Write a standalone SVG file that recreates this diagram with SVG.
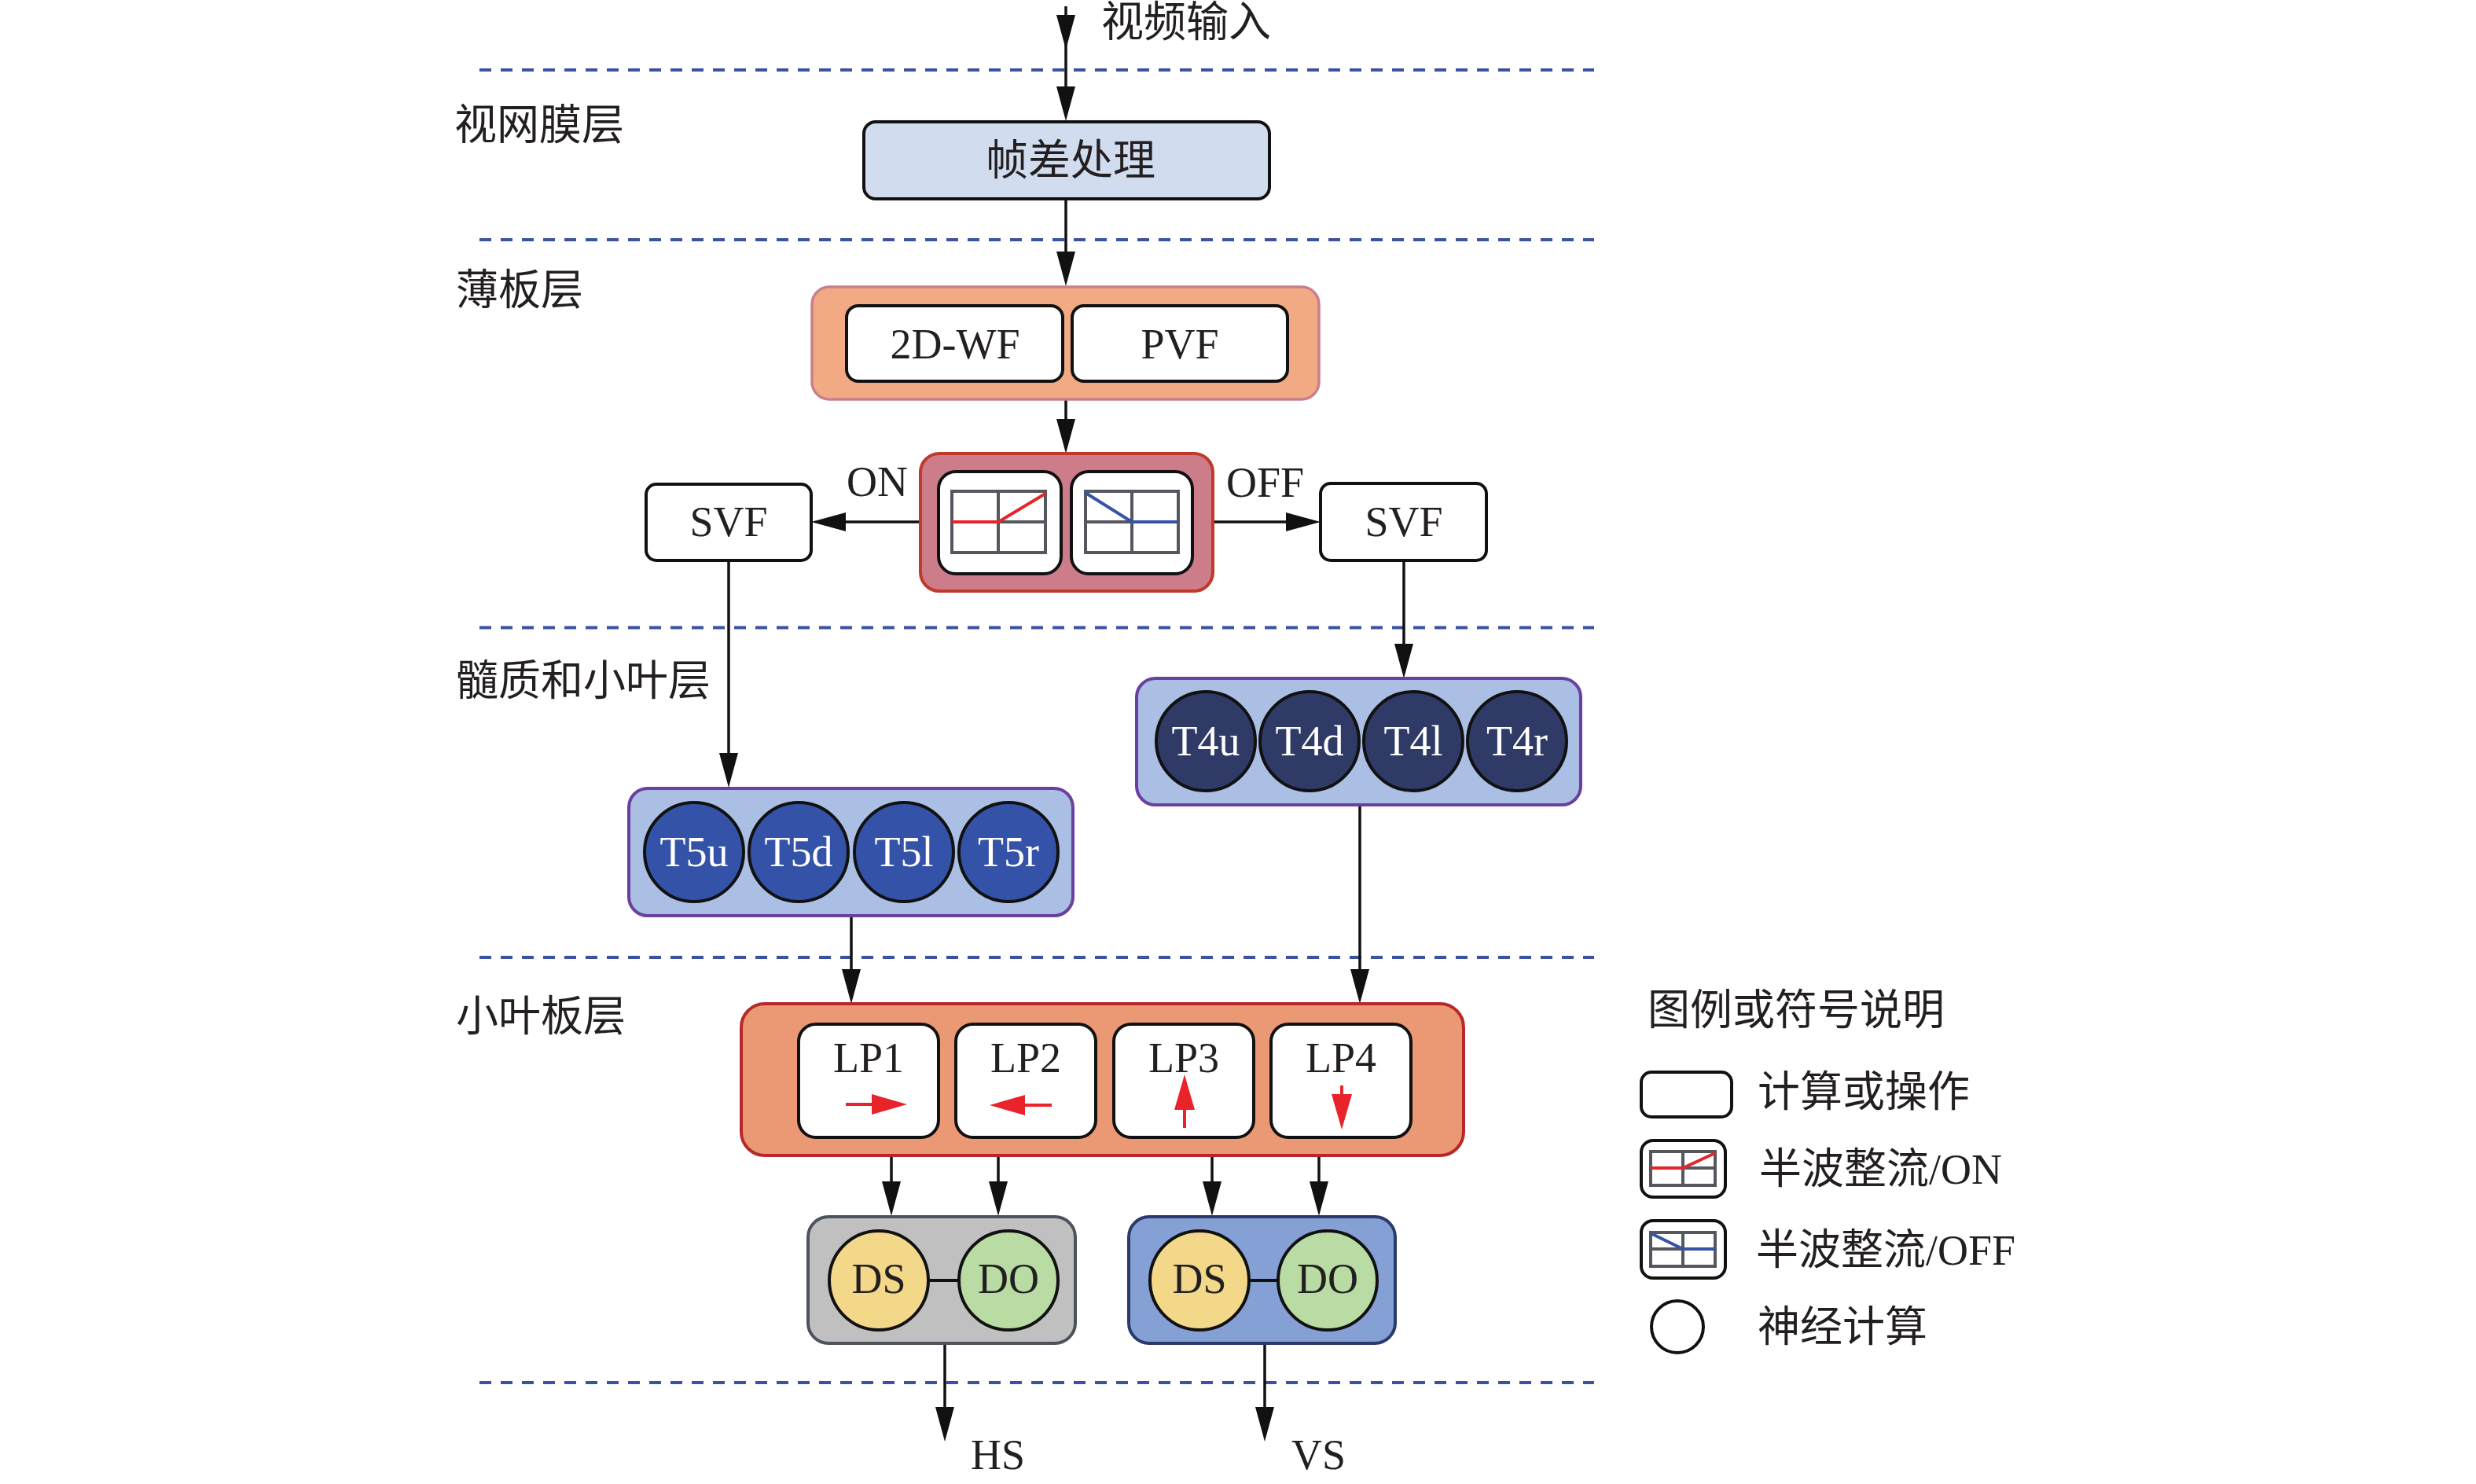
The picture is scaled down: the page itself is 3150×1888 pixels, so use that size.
<svg xmlns="http://www.w3.org/2000/svg" width="3150" height="1888" viewBox="0 0 3150 1888">
<defs>
<style>
.dash{stroke:#3a52a0;stroke-width:4;stroke-dasharray:15 12;fill:none}
.conn{stroke:#111;stroke-width:3.5;fill:none;marker-end:url(#ah)}
.red{stroke:#e8232a;stroke-width:4;fill:none;marker-end:url(#rah)}
.wbox{fill:#fff;stroke:#111;stroke-width:4}
.lat{font-family:"Liberation Serif","Times New Roman",serif;font-size:54px;fill:#231f20}
.wt{font-family:"Liberation Serif","Times New Roman",serif;font-size:54px;fill:#fff}
.cjk{font-family:"Liberation Serif","Noto Sans CJK SC",serif;font-size:54px;fill:#231f20}
.grid{fill:none;stroke:#55575f;stroke-width:4}
.ring{stroke:#111;stroke-width:4}
.mid{text-anchor:middle}
</style>
<marker id="ah" markerUnits="userSpaceOnUse" markerWidth="44" markerHeight="24" refX="36" refY="12" orient="auto">
<path d="M0,0 L44,12 L0,24 Z" fill="#111"/>
</marker>
<marker id="rah" markerUnits="userSpaceOnUse" markerWidth="45" markerHeight="26" refX="37" refY="13" orient="auto">
<path d="M0,0 L45,13 L0,26 Z" fill="#e8232a"/>
</marker>
</defs>
<rect width="3150" height="1888" fill="#fff"/>

<g id="layers">
<line class="dash" x1="610" y1="89" x2="2028" y2="89"/>
<line class="dash" x1="610" y1="305" x2="2028" y2="305"/>
<line class="dash" x1="610" y1="798.5" x2="2028" y2="798.5"/>
<line class="dash" x1="610" y1="1218" x2="2028" y2="1218"/>
<line class="dash" x1="610" y1="1759" x2="2028" y2="1759"/>
<text class="cjk" x="578" y="178">视网膜层</text>
<text class="cjk" x="580" y="388">薄板层</text>
<text class="cjk" x="580" y="885">髓质和小叶层</text>
<text class="cjk" x="580" y="1312">小叶板层</text>
</g>

<g id="connectors">
<path class="conn" d="M1356,8 V55 V146" marker-mid="url(#ah)"/>
<path class="conn" d="M1356,253 V356"/>
<path class="conn" d="M1356,508 V569"/>
<path class="conn" d="M1171,664 H1040"/>
<path class="conn" d="M1543,664 H1672"/>
<path class="conn" d="M927,713 V994"/>
<path class="conn" d="M1786,713 V855"/>
<path class="conn" d="M1083,1165 V1269"/>
<path class="conn" d="M1730,1024 V1269"/>
<path class="conn" d="M1134,1470 V1539"/>
<path class="conn" d="M1270,1470 V1539"/>
<path class="conn" d="M1542,1470 V1539"/>
<path class="conn" d="M1678,1470 V1539"/>
<path class="conn" d="M1202,1709 V1826"/>
<path class="conn" d="M1609,1709 V1826"/>
<text class="cjk" x="1401" y="47">视频输入</text>
<text class="lat" x="1077" y="631">ON</text>
<text class="lat" x="1560" y="632">OFF</text>
<text class="lat" x="1235" y="1869">HS</text>
<text class="lat" x="1643" y="1869">VS</text>
</g>

<g id="frame-diff">
<rect x="1099" y="155" width="516" height="98" rx="15" fill="#d1ddef" stroke="#111" stroke-width="4"/>
<text class="cjk mid" x="1362" y="223">帧差处理</text>
</g>

<g id="lamina">
<rect x="1033" y="365" width="645" height="143" rx="22" fill="#f2aa84" stroke="#c9808a" stroke-width="3.5"/>
<g id="wf2d">
<rect class="wbox" x="1077" y="389" width="275" height="96" rx="15"/>
<text class="lat mid" x="1215" y="456">2D-WF</text>
</g>
<g id="pvf">
<rect class="wbox" x="1364" y="389" width="274" height="96" rx="15"/>
<text class="lat mid" x="1501" y="456">PVF</text>
</g>
</g>

<g id="rectifier">
<rect x="1171" y="577" width="372" height="175" rx="24" fill="#cd7d8a" stroke="#c0392b" stroke-width="4"/>
<g id="hwr-on">
<rect class="wbox" x="1194" y="600" width="156" height="130" rx="22"/>
<rect class="grid" x="1211" y="625" width="119" height="78"/>
<line class="grid" x1="1270" y1="625" x2="1270" y2="703"/>
<line class="grid" x1="1211" y1="664" x2="1330" y2="664"/>
<polyline points="1211,664 1270,664 1330,628" fill="none" stroke="#e3262c" stroke-width="4"/>
</g>
<g id="hwr-off">
<rect class="wbox" x="1363" y="600" width="154" height="130" rx="22"/>
<rect class="grid" x="1381" y="625" width="118" height="78"/>
<line class="grid" x1="1440" y1="625" x2="1440" y2="703"/>
<line class="grid" x1="1381" y1="664" x2="1499" y2="664"/>
<polyline points="1381,627 1440,664 1499,664" fill="none" stroke="#3653a5" stroke-width="4"/>
</g>
</g>

<g id="svf-on">
<rect class="wbox" x="822" y="616" width="210" height="97" rx="13"/>
<text class="lat mid" x="927" y="682">SVF</text>
</g>
<g id="svf-off">
<rect class="wbox" x="1680" y="615" width="211" height="98" rx="13"/>
<text class="lat mid" x="1786" y="682">SVF</text>
</g>

<g id="t5">
<rect x="800" y="1003" width="565" height="162" rx="24" fill="#aabfe3" stroke="#6b3fa0" stroke-width="4"/>
<circle class="ring" cx="883" cy="1084" r="63" fill="#3452a8"/>
<circle class="ring" cx="1016" cy="1084" r="63" fill="#3452a8"/>
<circle class="ring" cx="1150" cy="1084" r="63" fill="#3452a8"/>
<circle class="ring" cx="1283" cy="1084" r="63" fill="#3452a8"/>
<text class="wt mid" x="883" y="1102">T5u</text>
<text class="wt mid" x="1016" y="1102">T5d</text>
<text class="wt mid" x="1150" y="1102">T5l</text>
<text class="wt mid" x="1283" y="1102">T5r</text>
</g>

<g id="t4">
<rect x="1446" y="863" width="565" height="161" rx="24" fill="#aabfe3" stroke="#6b3fa0" stroke-width="4"/>
<circle class="ring" cx="1534" cy="943" r="63" fill="#2f3a66"/>
<circle class="ring" cx="1666" cy="943" r="63" fill="#2f3a66"/>
<circle class="ring" cx="1798" cy="943" r="63" fill="#2f3a66"/>
<circle class="ring" cx="1930" cy="943" r="63" fill="#2f3a66"/>
<text class="wt mid" x="1534" y="961">T4u</text>
<text class="wt mid" x="1666" y="961">T4d</text>
<text class="wt mid" x="1798" y="961">T4l</text>
<text class="wt mid" x="1930" y="961">T4r</text>
</g>

<g id="lobula-plate">
<rect x="943" y="1277" width="919" height="193" rx="30" fill="#eb9975" stroke="#b8282a" stroke-width="4"/>
<g id="lp1">
<rect class="wbox" x="1016" y="1303" width="178" height="144" rx="22"/>
<text class="lat mid" x="1105" y="1364">LP1</text>
<path class="red" d="M1076,1405 H1146"/>
</g>
<g id="lp2">
<rect class="wbox" x="1216" y="1303" width="178" height="144" rx="22"/>
<text class="lat mid" x="1305" y="1364">LP2</text>
<path class="red" d="M1338,1406 H1267"/>
</g>
<g id="lp3">
<rect class="wbox" x="1417" y="1303" width="178" height="144" rx="22"/>
<text class="lat mid" x="1506" y="1364">LP3</text>
<path class="red" d="M1507,1435 V1375"/>
</g>
<g id="lp4">
<rect class="wbox" x="1617" y="1303" width="178" height="144" rx="22"/>
<text class="lat mid" x="1706" y="1364">LP4</text>
<path class="red" d="M1707,1381 V1429"/>
</g>
</g>

<g id="hs-pair">
<rect x="1028" y="1548" width="340" height="161" rx="26" fill="#c0c0c0" stroke="#4d535c" stroke-width="4"/>
<line x1="1181" y1="1629" x2="1220" y2="1629" stroke="#111" stroke-width="4"/>
<circle class="ring" cx="1118" cy="1629" r="63" fill="#f3d88a"/>
<circle class="ring" cx="1283" cy="1629" r="63" fill="#b8dca4"/>
<text class="lat mid" x="1118" y="1645">DS</text>
<text class="lat mid" x="1283" y="1645">DO</text>
</g>

<g id="vs-pair">
<rect x="1436" y="1548" width="339" height="161" rx="26" fill="#84a0d4" stroke="#2b3a6c" stroke-width="4"/>
<line x1="1589" y1="1629" x2="1626" y2="1629" stroke="#111" stroke-width="4"/>
<circle class="ring" cx="1526" cy="1629" r="63" fill="#f3d88a"/>
<circle class="ring" cx="1689" cy="1629" r="63" fill="#b8dca4"/>
<text class="lat mid" x="1526" y="1645">DS</text>
<text class="lat mid" x="1689" y="1645">DO</text>
</g>

<g id="legend">
<text class="cjk" x="2096" y="1304">图例或符号说明</text>
<rect class="wbox" x="2088" y="1364" width="115" height="57" rx="13"/>
<text class="cjk" x="2236" y="1408">计算或操作</text>
<rect class="wbox" x="2088" y="1451" width="107" height="72" rx="15"/>
<rect class="grid" x="2100" y="1465" width="82" height="43"/>
<line class="grid" x1="2141" y1="1465" x2="2141" y2="1508"/>
<line class="grid" x1="2100" y1="1486" x2="2182" y2="1486"/>
<polyline points="2100,1486 2141,1486 2182,1467" fill="none" stroke="#e3262c" stroke-width="4"/>
<text class="cjk" x="2238" y="1506">半波整流/ON</text>
<rect class="wbox" x="2088" y="1553" width="107" height="73" rx="15"/>
<rect class="grid" x="2100" y="1568" width="82" height="43"/>
<line class="grid" x1="2141" y1="1568" x2="2141" y2="1611"/>
<line class="grid" x1="2100" y1="1589" x2="2182" y2="1589"/>
<polyline points="2100,1569 2141,1589 2182,1589" fill="none" stroke="#3653a5" stroke-width="4"/>
<text class="cjk" x="2234" y="1609">半波整流/OFF</text>
<circle cx="2134" cy="1688" r="33" fill="#fff" stroke="#111" stroke-width="4"/>
<text class="cjk" x="2236" y="1707">神经计算</text>
</g>
</svg>
